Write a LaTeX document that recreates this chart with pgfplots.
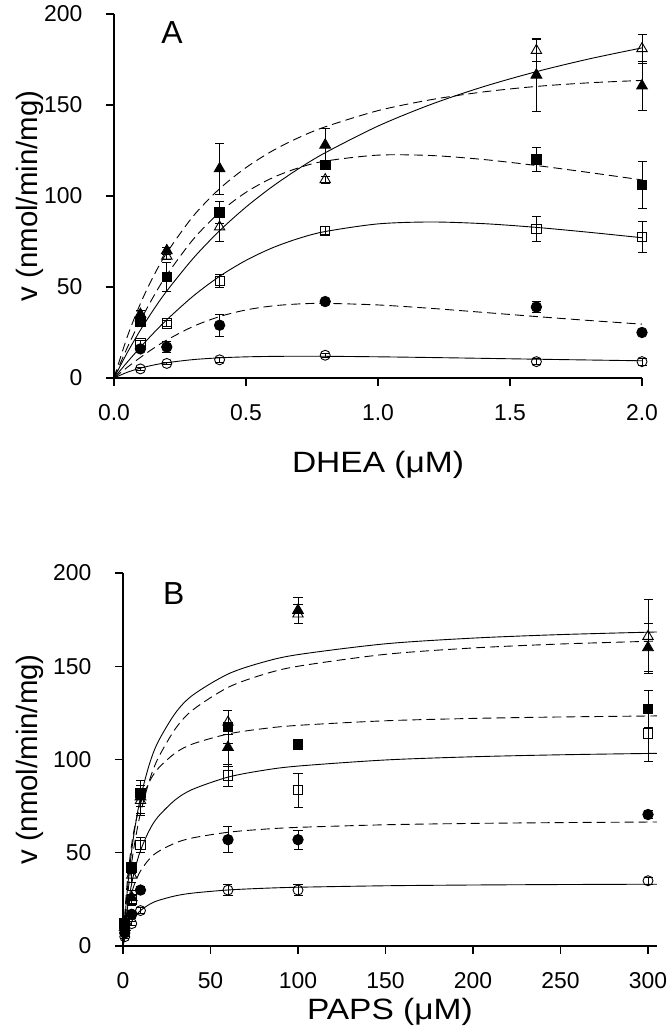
\documentclass[border=0pt]{standalone}
\usepackage{fontspec}
\setmainfont{Liberation Sans}
\newfontfamily\widefont[FakeStretch=1.14]{Liberation Sans}
\usepackage{pgfplots}
\pgfplotsset{compat=1.18}
\pgfplotsset{
 kin/.style={
  scale only axis,
  axis x line=bottom, axis y line=left,
  axis line style={-, line width=1.4bp},
  tick align=outside, major tick length=8bp,
  tick style={black, line width=1.4bp},
  ymin=0, ymax=200, ytick={0,50,...,200},
  ticklabel style={font=\fontsize{23}{26}\selectfont},
  xticklabel style={yshift=-15bp},
  yticklabel style={xshift=-20bp},
  /pgf/number format/assume math mode=true,
  clip=false,
  xlabel style={font=\widefont\fontsize{29.5}{33}\selectfont, anchor=center},
  ylabel style={font=\fontsize{29.5}{33}\selectfont, anchor=center},
 },
 fitS/.style={black, line width=0.9bp, smooth, no marks},
 fitD/.style={black, line width=0.9bp, smooth, no marks, dash pattern=on 9bp off 5bp},
 eb/.style={error bars/.cd, y dir=both, y explicit,
   error bar style={line width=0.9bp, black},
   error mark options={line width=0.9bp, black, mark size=4.5bp, rotate=90}},
 mOC/.style={only marks, mark=o, mark size=5bp, mark options={draw=black, line width=0.9bp}},
 mFC/.style={only marks, mark=*, mark size=5.2bp, mark options={fill=black, draw=black, line width=0.9bp}},
 mOS/.style={only marks, mark=square, mark size=4.6bp, mark options={draw=black, line width=0.9bp}},
 mFS/.style={only marks, mark=square*, mark size=4.8bp, mark options={fill=black, draw=black, line width=0.9bp}},
 mOT/.style={only marks, mark=triangle, mark size=6bp, mark options={draw=black, line width=0.9bp}},
 mFT/.style={only marks, mark=triangle*, mark size=6.2bp, mark options={fill=black, draw=black, line width=0.9bp}},
}
\begin{document}
\begin{tikzpicture}
\path[use as bounding box] (-114bp,-656bp) rectangle (557bp,378bp);
% ---------------- Panel A ----------------
\begin{axis}[kin,
  at={(0,0)}, anchor=south west,
  width=528bp, height=364bp,
  xmin=0, xmax=2, xtick={0,0.5,1,1.5,2},
  xticklabel style={/pgf/number format/.cd, fixed, fixed zerofill, precision=1},
  xlabel={DHEA (μM)}, ylabel={v (nmol/min/mg)},
  xlabel style={at={(axis description cs:0.5,-0.239)}},
  ylabel style={at={(axis description cs:-0.159,0.5)}},
]
% fitted curves
\addplot[fitS] coordinates {(0,0) (0.05,3.13) (0.1,5.42) (0.15,7.12) (0.2,8.40) (0.3,10.11) (0.4,11.08) (0.5,11.62) (0.6,11.87) (0.7,11.96) (0.8,11.93) (1.0,11.65) (1.2,11.25) (1.4,10.80) (1.6,10.33) (1.8,9.89) (2.0,9.46)};
\addplot[fitD] coordinates {(0,0) (0.05,5.83) (0.1,11.31) (0.15,16.34) (0.2,20.87) (0.3,28.35) (0.4,33.76) (0.5,37.39) (0.6,39.59) (0.7,40.69) (0.8,41.0) (1.0,40.14) (1.2,38.27) (1.4,36.04) (1.6,33.76) (1.8,31.60) (2.0,29.59)};
\addplot[fitS] coordinates {(0,0) (0.05,8.66) (0.1,16.91) (0.15,24.71) (0.2,32.01) (0.3,45.01) (0.4,55.87) (0.5,64.64) (0.6,71.51) (0.7,76.71) (0.8,80.48) (1.0,84.67) (1.2,85.72) (1.4,84.81) (1.6,82.75) (1.8,80.05) (2.0,77.07)};
\addplot[fitD] coordinates {(0,0) (0.05,16.60) (0.1,31.53) (0.15,44.84) (0.2,56.65) (0.3,76.18) (0.4,91.01) (0.5,102.03) (0.6,109.98) (0.7,115.51) (0.8,119.19) (1.0,122.46) (1.2,122.25) (1.4,120.05) (1.6,116.75) (1.8,112.90) (2.0,108.83)};
\addplot[fitS] coordinates {(0,0) (0.05,13.84) (0.1,26.3) (0.15,37.57) (0.2,47.82) (0.3,65.75) (0.4,80.92) (0.5,93.93) (0.6,105.2) (0.7,115.06) (0.8,123.76) (1.0,138.42) (1.2,150.29) (1.4,160.09) (1.6,168.32) (1.8,175.33) (2.0,181.38)};
\addplot[fitD] coordinates {(0,0) (0.05,22.54) (0.1,40.88) (0.15,56.05) (0.2,68.80) (0.3,88.93) (0.4,104.0) (0.5,115.6) (0.6,124.8) (0.7,132.1) (0.8,138.0) (1.0,146.9) (1.2,152.9) (1.4,157.2) (1.6,160.2) (1.8,162.2) (2.0,163.5)};
% data points
\addplot[mOC, eb] table[x=x, y=y, y error=e] {
x y e
0.1 5 1
0.2 8 0.8
0.4 10 1.5
0.8 12.5 1
1.6 9 1.5
2.0 9 2
};
\addplot[mFC, eb] table[x=x, y=y, y error=e] {
x y e
0.1 16 1
0.2 17 3
0.4 29 6
0.8 42 1
1.6 39 3
2.0 25 1
};
\addplot[mOS, eb] table[x=x, y=y, y error=e] {
x y e
0.1 19 1.5
0.2 30 1.5
0.4 53.5 3.5
0.8 81 2
1.6 82 7
2.0 77.5 8.5
};
\addplot[mFS, eb] table[x=x, y=y, y error=e] {
x y e
0.1 31 2
0.2 55.5 8
0.4 91 6
0.8 117 1
1.6 120 6.5
2.0 106 13
};
\addplot[mOT, eb] table[x=x, y=y, y error=e] {
x y e
0.1 33 2
0.2 67 2
0.4 83 8
0.8 109 2
1.6 180 6
2.0 181 8
};
\addplot[mFT, eb] table[x=x, y=y, y error=e] {
x y e
0.1 35 2
0.2 70 2
0.4 115 14
0.8 128 9
1.6 166.5 20
2.0 160.5 13.5
};
\node[font=\fontsize{32}{36}\selectfont] at (axis cs:0.22,190) {A};
\end{axis}
% ---------------- Panel B ----------------
\begin{axis}[kin,
  at={(9bp,-568bp)}, anchor=south west,
  width=533.75bp, height=373bp,
  xmin=0, xmax=305, xtick={0,50,...,300},
  xlabel={PAPS (μM)}, ylabel={v (nmol/min/mg)},
  xlabel style={at={(axis description cs:0.5,-0.177)}},
  ylabel style={at={(axis description cs:-0.174,0.5)}},
]
\addplot[fitS] coordinates {(0,0) (0.5,2.02) (1,3.82) (2,6.87) (3,9.36) (5,13.18) (7,15.97) (10,18.99) (15,22.27) (20,24.37) (30,26.91) (40,28.39) (60,30.04) (80,30.94) (100,31.51) (150,32.30) (200,32.71) (250,32.96) (305,33.14)};
\addplot[fitD] coordinates {(0,0) (0.5,4.59) (1,8.61) (2,15.28) (3,20.61) (5,28.57) (7,34.24) (10,40.24) (15,46.58) (20,50.56) (30,55.28) (40,58.00) (60,60.99) (80,62.60) (100,63.61) (150,65.01) (200,65.73) (250,66.17) (305,66.50)};
\addplot[fitS] coordinates {(0,0) (0.5,4.69) (1,8.99) (2,16.59) (3,23.09) (5,33.65) (7,41.84) (10,51.20) (15,61.97) (20,69.26) (30,78.48) (40,84.09) (60,90.55) (80,94.17) (100,96.48) (150,99.75) (200,101.47) (250,102.53) (305,103.31)};
\addplot[fitD] coordinates {(0,0) (0.5,9.0) (1,16.8) (2,29.65) (3,39.79) (5,54.78) (7,65.33) (10,76.36) (15,87.91) (20,95.09) (30,103.56) (40,108.39) (60,113.68) (80,116.53) (100,118.31) (150,120.77) (200,122.03) (250,122.81) (305,123.37)};
\addplot[fitS] coordinates {(0,0) (0.5,7.0) (1,13.46) (2,25.0) (3,35.0) (5,51.47) (7,64.47) (10,79.55) (15,97.22) (20,109.38) (30,125.0) (40,134.62) (60,145.83) (80,152.17) (100,156.25) (150,162.04) (200,165.09) (250,166.98) (305,168.38)};
\addplot[fitD] coordinates {(0,0) (0.5,5.90) (1,11.4) (2,21.38) (3,30.18) (5,45.0) (7,57.0) (10,71.25) (15,88.45) (20,100.59) (30,116.59) (40,126.67) (60,138.65) (80,145.53) (100,150.0) (150,156.40) (200,159.81) (250,161.93) (305,163.50)};
\addplot[mOC, eb] table[x=x, y=y, y error=e] {
x y e
1 5 1
5 12 1
10 19 1.5
60 30 3
100 30 3
300 35 2
};
\addplot[mFC, eb] table[x=x, y=y, y error=e] {
x y e
1 7 1
5 17 2
10 30 2
60 57 7
100 57 5
300 70.5 2
};
\addplot[mOS, eb] table[x=x, y=y, y error=e] {
x y e
1 9 1
5 25 2
10 54 4
60 91.5 6
100 83.5 9
300 114 15
};
\addplot[mFS, eb] table[x=x, y=y, y error=e] {
x y e
1 12 2
5 42 3
10 82 7
60 117.5 9
100 108 1
300 127 10
};
\addplot[mOT, eb] table[x=x, y=y, y error=e] {
x y e
1 10 2
5 38 4
10 78 8
60 120 6.5
100 178 5
300 166 20
};
\addplot[mFT, eb] table[x=x, y=y, y error=e] {
x y e
1 10 2
5 26 4
10 80 9
60 106.5 10
100 180 7
300 160 13
};
\node[font=\fontsize{32}{36}\selectfont] at (axis cs:29,189) {B};
\end{axis}
\end{tikzpicture}
\end{document}
